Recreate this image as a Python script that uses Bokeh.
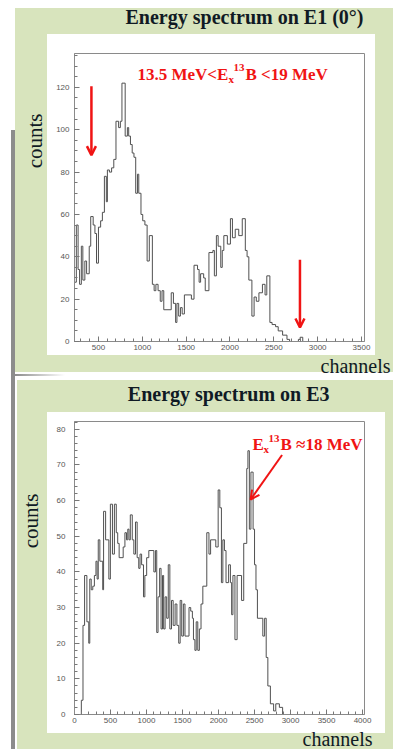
import math
from bokeh.plotting import figure
from bokeh.layouts import column
from bokeh.models import Label, Arrow, OpenHead, SingleIntervalTicker, Title
from bokeh.embed import file_html
from bokeh.resources import INLINE

# ---------------- data: spectrum on E1 (0 deg) ----------------
e1_edges = [230, 248, 268, 285, 305, 322, 345, 365, 395, 412, 440, 460, 478, 500, 525, 545,
            568, 590, 602, 625, 650, 675, 700, 730, 750, 768, 805, 830, 845, 865, 885, 905,
            925, 945, 960, 985, 1005, 1030, 1055, 1080, 1115, 1135, 1155, 1180, 1205, 1225,
            1245, 1330, 1355, 1380, 1395, 1415, 1435, 1455, 1480, 1560, 1590, 1630, 1648,
            1665, 1700, 1718, 1760, 1805, 1822, 1845, 1865, 1895, 1912, 1930, 1970, 2005,
            2028, 2060, 2100, 2140, 2175, 2195, 2215, 2250, 2275, 2300, 2330, 2370, 2400,
            2420, 2455, 2480, 2520, 2550, 2600, 2650, 2680, 2780, 2800, 2830]
e1_counts = [28, 55, 34, 27, 45, 29, 38, 32, 45, 59, 55, 51, 37, 54, 57, 61,
             78, 66, 81, 80, 82, 86, 104, 101, 104, 122, 97, 101, 97, 93, 89, 87,
             70, 79, 70, 60, 57, 55, 38, 50, 27, 24, 27, 24, 19, 24,
             15, 23, 18, 9, 18, 12, 16, 13, 22, 20, 36, 34, 28,
             32, 30, 24, 42, 43, 31, 50, 45, 35, 43, 50, 46, 58,
             49, 53, 50, 58, 43, 40, 29, 12, 21, 19, 23, 27, 22,
             31, 9, 8, 7, 5, 3, 1, 0, 1, 2, 0]
e1_end = 2860
e1_arrow_x = [420, 2798]
e1_arrow_top = [120.5, 38.6]
e1_arrow_tip = [88, 6.6]

# ---------------- data: spectrum on E3 ----------------
e3_edges = [0, 95, 118, 140, 172, 198, 212, 232, 254, 276, 298, 314, 330, 352, 392, 404,
            432, 477, 498, 527, 554, 580, 600, 620, 676, 700, 722, 740, 757, 775, 802, 824,
            847, 870, 892, 910, 932, 958, 977, 1002, 1032, 1102, 1124, 1142, 1160, 1182,
            1202, 1222, 1238, 1258, 1280, 1302, 1324, 1347, 1370, 1397, 1422, 1447, 1467,
            1489, 1512, 1534, 1590, 1614, 1637, 1652, 1672, 1690, 1712, 1734, 1757, 1782,
            1837, 1867, 1890, 1962, 1995, 2018, 2040, 2060, 2082, 2104, 2140, 2165, 2182,
            2200, 2228, 2258, 2320, 2350, 2392, 2408, 2428, 2450, 2480, 2500, 2520, 2540,
            2615, 2640, 2662, 2685, 2720, 2765, 2795, 2845, 2890]
e3_counts = [0, 4, 25, 39, 26, 20, 38, 35, 36, 39, 43, 38, 49, 43, 35, 57,
             49, 38, 59, 45, 59, 51, 48, 44, 47, 51, 49, 52, 49, 56, 49, 45,
             54, 44, 41, 45, 42, 33, 39, 44, 46, 40, 46, 23, 33, 41,
             24, 39, 24, 33, 27, 42, 24, 32, 25, 31, 25, 20, 32,
             22, 31, 22, 30, 29, 27, 21, 18, 26, 18, 24, 31, 36,
             51, 45, 49, 47, 63, 58, 37, 49, 46, 37, 42, 37, 28,
             39, 21, 39, 32, 48, 69, 74, 52, 68, 52, 42, 35, 27,
             22, 27, 16, 8, 3, 1, 3, 2, 0]
e3_end = 4000
e3_arrow_start = (2882, 72.8)
e3_arrow_tip = (2445, 60.3)

GREEN = "#d8e4bd"
GRAY = "#8c8c8c"
RED = "#f01414"
DARK = "#101a24"
SERIF = "Liberation Serif"


def layer(color, x, y, w, h):
    return f"linear-gradient({color},{color}) {x}px {y}px / {w}px {h}px no-repeat"


def clabel(p, x, y, text, size, color=RED):
    p.add_layout(Label(x=x, y=y, x_units="canvas", y_units="canvas", text=text,
                       text_font=SERIF, text_font_size=f"{size}px", text_font_style="bold",
                       text_color=color, text_align="left", text_baseline="alphabetic"))


def side_title(text, size, style, align, offset, standoff):
    return Title(text=text, align=align, offset=offset, standoff=standoff,
                 text_font=SERIF, text_font_size=f"{size}px", text_font_style=style,
                 text_color=DARK)


def make_fig(h, xr, yr, left, right, top, bottom, xint, yint, ynminor, ystand, bg):
    p = figure(width=393, height=h, x_range=xr, y_range=yr, output_backend="svg",
               toolbar_location=None, min_border_left=left, min_border_right=right,
               min_border_top=top, min_border_bottom=bottom,
               styles={"background": bg})
    p.border_fill_color = None
    p.background_fill_color = "white"
    p.outline_line_color = "#8a8a8a"
    p.grid.visible = False
    p.xaxis.ticker = SingleIntervalTicker(interval=xint, num_minor_ticks=5)
    p.yaxis.ticker = SingleIntervalTicker(interval=yint, num_minor_ticks=ynminor)
    for ax in (p.xaxis[0], p.yaxis[0]):
        ax.axis_line_color = "#8a8a8a"
        ax.major_tick_line_color = "#777777"
        ax.minor_tick_line_color = "#777777"
        ax.major_tick_in = 5
        ax.major_tick_out = 0
        ax.minor_tick_in = 3
        ax.minor_tick_out = 0
        ax.major_label_text_font = "Liberation Sans"
        ax.major_label_text_font_size = "8px"
        ax.major_label_text_color = "#555555"
    p.xaxis.major_label_standoff = 3
    p.yaxis.major_label_standoff = ystand
    return p


def style_title(p, text, offset, spacer):
    p.title.text = text
    p.title.align = "right"
    p.title.offset = offset
    p.title.standoff = 0
    p.title.vertical_align = "bottom"
    p.title.text_font = SERIF
    p.title.text_font_size = "20px"
    p.title.text_font_style = "bold"
    p.title.text_color = DARK
    # blank spacer between the title and the plot frame
    p.add_layout(Title(text=" ", text_font_size="1px", standoff=spacer), "above")


# ---------------- top panel ----------------
bg1 = ", ".join([
    layer("#ffffff", 47, 34, 328, 321),
    layer(GREEN, 15, 8, 378, 364),
    layer(GRAY, 11, 130, 4, 246),
    f"linear-gradient(to right, {GRAY}, rgba(140,140,140,0)) 15px 374px / 50px 3px no-repeat",
    "#ffffff",
])
p1 = make_fig(376, (227, 3534), (0, 136), 73, 29, 53, 34, 500, 20, 4, 5, bg1)
style_title(p1, "Energy spectrum on E1 (0°)", 1, 23)
p1.add_layout(side_title("counts", 21, "normal", "right", 60, 13), "left")
p1.add_layout(side_title("channels", 20, "normal", "right", -26, 0), "below")

p1.step(x=e1_edges + [e1_end], y=e1_counts + [e1_counts[-1]], mode="after",
        line_color="#505050", line_width=1)
for ax_, top_, tip_ in zip(e1_arrow_x, e1_arrow_top, e1_arrow_tip):
    p1.add_layout(Arrow(end=OpenHead(size=9, line_color=RED, line_width=2.5),
                        x_start=ax_, y_start=top_, x_end=ax_, y_end=tip_,
                        line_color=RED, line_width=2.5))

clabel(p1, 137, 74, "13.5 MeV<E", 17)
clabel(p1, 228, 78, "x", 11)
clabel(p1, 233, 67, "13", 11)
clabel(p1, 245, 74, "B <19 MeV", 17)

# ---------------- bottom panel ----------------
bg2 = ", ".join([
    layer("#ffffff", 47, 36, 338, 321),
    layer(GREEN, 17, 4, 376, 369),
    layer(GRAY, 11, 0, 4, 373),
    "#ffffff",
])
p2 = make_fig(373, (0, 4027), (0, 82.2), 74, 21, 45, 32, 500, 10, 5, 9, bg2)
style_title(p2, "Energy spectrum on E3", 35, 14)
p2.add_layout(side_title("counts", 21, "normal", "right", 72, 21), "left")
p2.add_layout(side_title("channels", 20, "normal", "right", -8, 0), "below")

p2.step(x=e3_edges + [e3_end], y=e3_counts + [e3_counts[-1]], mode="after",
        line_color="#505050", line_width=1)
p2.add_layout(Arrow(end=OpenHead(size=9, line_color=RED, line_width=2),
                    x_start=e3_arrow_start[0], y_start=e3_arrow_start[1],
                    x_end=e3_arrow_tip[0], y_end=e3_arrow_tip[1],
                    line_color=RED, line_width=2))

clabel(p2, 252, 68, "E", 17)
clabel(p2, 263, 72, "x", 11)
clabel(p2, 268, 62, "13", 11)
clabel(p2, 280, 68, "B ≈18 MeV", 17)

layout = column(p1, p2, spacing=0)
open("out.html", "w").write(file_html(layout, INLINE))
